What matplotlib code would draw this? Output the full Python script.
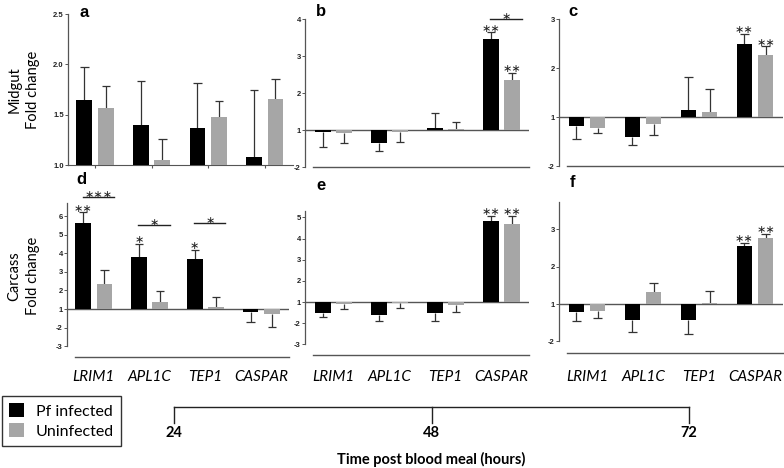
import numpy as np
import matplotlib
matplotlib.use('Agg')
import matplotlib.pyplot as plt
from matplotlib.patches import Patch

W, H = 784, 468

genes = ['LRIM1', 'APL1C', 'TEP1', 'CASPAR']
times = [24, 48, 72]

# panel a: midgut 24 h (axis in fold change, 1.0 - 2.5)
a_inf = [1.645, 1.40, 1.37, 1.08]
a_inf_err = [0.33, 0.43, 0.44, 0.67]
a_uni = [1.57, 1.05, 1.48, 1.66]
a_uni_err = [0.21, 0.21, 0.16, 0.19]

# panels b-f: fold change (negative = down-regulated), error in axis units
b_inf = [-1.05, -1.35, 1.05, 3.45]
b_inf_err = [0.41, 0.22, 0.41, 0.19]
b_uni = [-1.08, -1.05, 1.03, 2.35]
b_uni_err = [0.27, 0.27, 0.19, 0.19]

c_inf = [-1.18, -1.40, 1.15, 2.50]
c_inf_err = [0.27, 0.17, 0.67, 0.20]
c_uni = [-1.22, -1.14, 1.11, 2.26]
c_uni_err = [0.11, 0.22, 0.46, 0.18]

d_inf = [5.62, 3.80, 3.69, -1.16]
d_inf_err = [0.58, 0.70, 0.48, 0.54]
d_uni = [2.34, 1.38, 1.10, -1.27]
d_uni_err = [0.76, 0.59, 0.55, 0.70]

e_inf = [-1.52, -1.61, -1.52, 4.82]
e_inf_err = [0.19, 0.29, 0.38, 0.24]
e_uni = [-1.07, -1.05, -1.14, 4.68]
e_uni_err = [0.24, 0.23, 0.33, 0.38]

f_inf = [-1.21, -1.43, -1.43, 2.55]
f_inf_err = [0.25, 0.32, 0.37, 0.09]
f_uni = [-1.19, 1.32, 1.03, 2.77]
f_uni_err = [0.19, 0.24, 0.32, 0.11]

# significance marks above bars
b_inf_sig = ['', '', '', '**']
b_uni_sig = ['', '', '', '**']
c_inf_sig = ['', '', '', '**']
c_uni_sig = ['', '', '', '**']
d_inf_sig = ['**', '*', '*', '']
e_inf_sig = ['', '', '', '**']
e_uni_sig = ['', '', '', '**']
f_inf_sig = ['', '', '', '**']
f_uni_sig = ['', '', '', '**']

BLACK = '#000000'
GRAY = '#a6a6a6'
LINE = '#555555'
TXT = 'Lato'


def to_axis(fc):
    fc = np.asarray(fc, dtype=float)
    return np.where(fc > 0, fc - 1, fc + 1)


def tick_label(t):
    return str(int(t + 1)) if t >= 0 else str(int(t - 1))


def px_axes(x0, y0, x1, y1):
    return fig.add_axes([x0 / W, 1 - y1 / H, (x1 - x0) / W, (y1 - y0) / H])


def star(ax, x, y, s, dy):
    ax.annotate(s.replace('*', '\u2217'), (x, y), xytext=(0, dy), textcoords='offset points',
                ha='center', va='bottom', fontsize=8, color='#222222',
                family='DejaVu Sans', annotation_clip=False)


def bars(ax, inf, inf_err, uni, uni_err, base, sig_inf=None, sig_uni=None):
    x = np.arange(len(genes))
    for vals, errs, col, off, sig in ((inf, inf_err, BLACK, -0.19, sig_inf),
                                      (uni, uni_err, GRAY, 0.19, sig_uni)):
        vals = np.asarray(vals, dtype=float)
        errs = np.asarray(errs, dtype=float)
        xp = x + off
        ax.bar(xp, vals - base, bottom=base, width=0.28, color=col, zorder=3)
        sign = np.where(vals >= base, 1, -1)
        ends = vals + sign * errs
        ax.vlines(xp, vals, ends, color='#333333', lw=0.9, zorder=2)
        ax.hlines(ends, xp - 0.075, xp + 0.075, color='#333333', lw=0.9, zorder=2)
        if sig:
            for xi, e, s in zip(xp, ends, sig):
                if s:
                    star(ax, xi, e, s, -1)


def bracket(ax, i, y, s):
    ax.plot([i - 0.2, i + 0.36], [y, y], color='#222222', lw=1, clip_on=False)
    star(ax, i + 0.08, y, s, -2)


def style(ax, ticks, labels, ylim, spine_bounds, xlim, bottom_line=None):
    ax.set_xlim(*xlim)
    ax.set_ylim(*ylim)
    for s in ['top', 'right', 'bottom']:
        ax.spines[s].set_visible(False)
    ax.spines['left'].set_color(LINE)
    ax.spines['left'].set_linewidth(0.9)
    ax.spines['left'].set_bounds(*spine_bounds)
    ax.set_yticks(ticks)
    ax.set_yticklabels(labels)
    ax.tick_params(axis='y', length=2, width=0.7, color=LINE, pad=1, labelsize=5.5,
                   labelcolor='#222222')
    for t in ax.get_yticklabels():
        t.set_fontweight('bold')
        t.set_family('Liberation Sans')
    ax.set_xticks([])
    ax.patch.set_visible(False)
    if bottom_line is not None:
        ax.plot([xlim[0] + 0.14, xlim[1]], [bottom_line, bottom_line], color=LINE,
                lw=1, clip_on=False)


def gene_labels(ax, pad):
    ax.set_xticks(np.arange(len(genes)))
    ax.set_xticklabels(genes)
    ax.tick_params(axis='x', length=0, pad=pad)
    for t in ax.get_xticklabels():
        t.set_family(TXT)
        t.set_style('italic')
        t.set_fontsize(11)


def panel_letter(ax, x, y, s):
    ax.text(x, y, s, transform=ax.transAxes, fontsize=12, fontweight='bold',
            family='Liberation Sans', va='center')


fig = plt.figure(figsize=(W / 100, H / 100), dpi=100)

# ---- panel a
ax = px_axes(68, 14, 293, 165)
bars(ax, a_inf, a_inf_err, a_uni, a_uni_err, 1.0)
style(ax, [1.0, 1.5, 2.0, 2.5], ['1.0', '1.5', '2.0', '2.5'], (1.0, 2.5), (1.0, 2.5), (-0.48, 3.5))
ax.spines['bottom'].set_visible(True)
ax.spines['bottom'].set_color(LINE)
ax.set_xticks(np.arange(len(genes)))
ax.tick_params(axis='x', length=2, color=LINE, labelbottom=False)
panel_letter(ax, 0.05, 1.01, 'a')

# ---- panel b
ax = px_axes(305, 19, 529, 167)
ax.axhline(0, color=LINE, lw=1, zorder=1)
bars(ax, to_axis(b_inf), b_inf_err, to_axis(b_uni), b_uni_err, 0.0, b_inf_sig, b_uni_sig)
tk = [-1, 0, 1, 2, 3]
style(ax, tk, [tick_label(t) for t in tk], (-1, 3), (-1, 3), (-0.51, 3.49), bottom_line=-1)
bracket(ax, 3, 3.0, '*')
panel_letter(ax, 0.05, 1.05, 'b')

# ---- panel c
ax = px_axes(559, 19, 783, 166)
ax.axhline(0, color=LINE, lw=1, zorder=1)
bars(ax, to_axis(c_inf), c_inf_err, to_axis(c_uni), c_uni_err, 0.0, c_inf_sig, c_uni_sig)
tk = [-1, 0, 1, 2]
style(ax, tk, [tick_label(t) for t in tk], (-1, 2), (-1, 2), (-0.5, 3.5), bottom_line=-1)
panel_letter(ax, 0.04, 1.05, 'c')

# ---- panel d
ax = px_axes(67, 203, 289, 357)
ax.axhline(0, color=LINE, lw=1, zorder=1)
bars(ax, to_axis(d_inf), d_inf_err, to_axis(d_uni), d_uni_err, 0.0, d_inf_sig)
tk = [-2, -1, 0, 1, 2, 3, 4, 5]
style(ax, tk, [tick_label(t) for t in tk], (-2.58, 5.7), (-2, 5.7), (-0.48, 3.5), bottom_line=-2.58)
bracket(ax, 0, 6.02, '***')
bracket(ax, 1, 4.52, '*')
bracket(ax, 2, 4.62, '*')
panel_letter(ax, 0.04, 1.15, 'd')
gene_labels(ax, 9.5)

# ---- panel e
ax = px_axes(305, 211, 529, 355)
ax.axhline(0, color=LINE, lw=1, zorder=1)
bars(ax, to_axis(e_inf), e_inf_err, to_axis(e_uni), e_uni_err, 0.0, e_inf_sig, e_uni_sig)
tk = [-2, -1, 0, 1, 2, 3, 4]
style(ax, tk, [tick_label(t) for t in tk], (-2.5, 4.3), (-2, 4.3), (-0.51, 3.49), bottom_line=-2.5)
panel_letter(ax, 0.05, 1.18, 'e')
gene_labels(ax, 11)

# ---- panel f
ax = px_axes(559, 202, 783, 353)
ax.axhline(0, color=LINE, lw=1, zorder=1)
bars(ax, to_axis(f_inf), f_inf_err, to_axis(f_uni), f_uni_err, 0.0, f_inf_sig, f_uni_sig)
tk = [-1, 0, 1, 2]
style(ax, tk, [tick_label(t) for t in tk], (-1.31, 2.73), (-1, 2.73), (-0.5, 3.5), bottom_line=-1.31)
panel_letter(ax, 0.05, 1.13, 'f')
gene_labels(ax, 12.5)

# row labels
fig.text(24 / W, 1 - 90 / H, 'Midgut\nFold change', rotation=90, ha='center', va='center',
         family=TXT, fontsize=10.5, linespacing=1.45)
fig.text(24 / W, 1 - 276 / H, 'Carcass\nFold change', rotation=90, ha='center', va='center',
         family=TXT, fontsize=10.5, linespacing=1.45)

# legend
handles = [Patch(facecolor=BLACK, edgecolor='none'), Patch(facecolor=GRAY, edgecolor='none')]
leg = fig.legend(handles, ['Pf infected', 'Uninfected'], loc='upper left',
                 bbox_to_anchor=(2 / W, 1 - 396 / H), frameon=True, fancybox=False,
                 edgecolor='black', handlelength=0.95, handleheight=0.95, borderpad=0.45,
                 labelspacing=0.3, handletextpad=0.7, borderaxespad=0,
                 prop={'family': TXT, 'size': 11.5})
leg.get_frame().set_linewidth(1)

# time line
tax = px_axes(174, 407, 689, 423)
tax.set_xlim(times[0], times[-1])
tax.set_ylim(0, 1)
tax.axis('off')
tax.plot([times[0], times[-1]], [1, 1], color='#222222', lw=1, clip_on=False)
for t in times:
    tax.plot([t, t], [1, 0], color='#222222', lw=1, clip_on=False)
    tax.text(t, -0.2, str(t), ha='center', va='top', family=TXT, fontweight='bold',
             fontsize=10.5)
tax.text(np.mean(times), -2.3, 'Time post blood meal (hours)', ha='center', va='center',
         family=TXT, fontweight='bold', fontsize=10.5)

fig.savefig('out.png', dpi=100)
